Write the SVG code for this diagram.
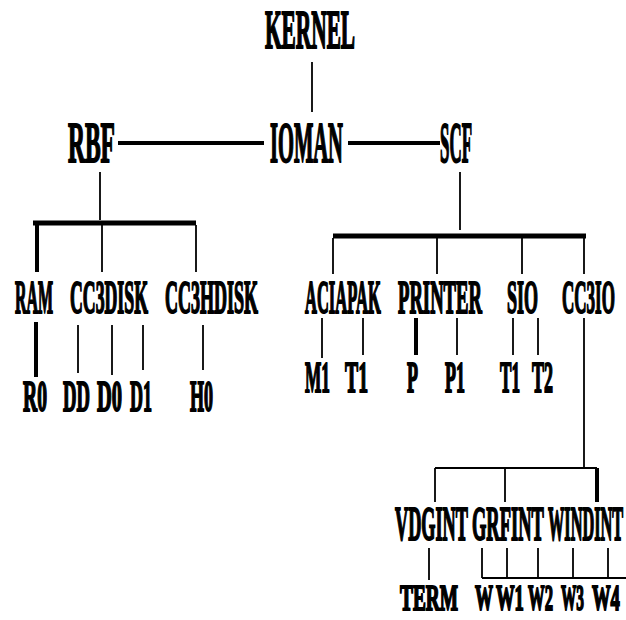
<svg xmlns="http://www.w3.org/2000/svg" width="626" height="620" viewBox="0 0 626 620">
<style>
.t{font-family:"Liberation Serif","DejaVu Serif",serif;font-weight:bold;fill:#000;stroke:#000;stroke-width:2}
.l0{font-size:55px}.l1{font-size:57px}.l2{font-size:47px}.lf{font-size:45px}.l3{font-size:48px}.lb{font-size:36px}
.c{stroke:#000;fill:none;stroke-linecap:butt}
.thick{stroke-width:4}.bar{stroke-width:5}.thin{stroke-width:1.8}
</style>
<rect width="626" height="620" fill="#fff"/>
<g id="connectors">
<line class="c thin" x1="312" y1="62" x2="312" y2="112"/>
<line class="c thick" x1="118" y1="143" x2="264" y2="143"/>
<line class="c thick" x1="348" y1="143" x2="440" y2="143"/>
<line class="c thin" x1="100" y1="172" x2="100" y2="220"/>
<line class="c bar" x1="33" y1="223" x2="196" y2="223"/>
<line class="c thick" x1="37" y1="225" x2="37" y2="272"/>
<line class="c thin" x1="102" y1="225" x2="102" y2="272"/>
<line class="c thin" x1="196" y1="225" x2="196" y2="272"/>
<line class="c thin" x1="460" y1="172" x2="460" y2="230"/>
<line class="c bar" x1="333" y1="236" x2="586" y2="236"/>
<line class="c thin" x1="333" y1="238" x2="333" y2="274"/>
<line class="c thin" x1="437" y1="238" x2="437" y2="274"/>
<line class="c thin" x1="522" y1="238" x2="522" y2="274"/>
<line class="c thin" x1="584" y1="238" x2="584" y2="274"/>
<line class="c thick" x1="36" y1="322" x2="36" y2="377"/>
<line class="c thin" x1="78" y1="325" x2="78" y2="373"/>
<line class="c thin" x1="112" y1="325" x2="112" y2="375"/>
<line class="c thin" x1="143" y1="325" x2="143" y2="370"/>
<line class="c thin" x1="203" y1="325" x2="203" y2="370"/>
<line class="c thin" x1="322" y1="318" x2="322" y2="358"/>
<line class="c thin" x1="363" y1="318" x2="363" y2="355"/>
<line class="c thick" x1="416" y1="318" x2="416" y2="355"/>
<line class="c thin" x1="457" y1="318" x2="457" y2="355"/>
<line class="c thin" x1="513" y1="318" x2="513" y2="355"/>
<line class="c thin" x1="538" y1="318" x2="538" y2="355"/>
<line class="c thin" x1="584" y1="318" x2="584" y2="468"/>
<line class="c thin" x1="435" y1="468" x2="597" y2="468"/>
<line class="c thin" x1="435" y1="468" x2="435" y2="502"/>
<line class="c thin" x1="505" y1="468" x2="505" y2="502"/>
<line class="c thick" x1="597" y1="468" x2="597" y2="502"/>
<line class="c thin" x1="429" y1="548" x2="429" y2="580"/>
<line class="c thin" x1="482" y1="578" x2="626" y2="578"/>
<line class="c thin" x1="482" y1="548" x2="482" y2="578"/>
<line class="c thin" x1="507" y1="548" x2="507" y2="578"/>
<line class="c thin" x1="538" y1="548" x2="538" y2="578"/>
<line class="c thin" x1="573" y1="548" x2="573" y2="578"/>
<line class="c thin" x1="608" y1="548" x2="608" y2="578"/>
</g>
<g id="kernel"><text class="t l0" transform="translate(265,48) scale(0.388,1)">KERNEL</text></g>
<g id="rbf"><text class="t l1" transform="translate(68,162) scale(0.412,1)">RBF</text></g>
<g id="ioman"><text class="t l1" transform="translate(270,162) scale(0.36,1)">IOMAN</text></g>
<g id="scf"><text class="t l1" transform="translate(440,162) scale(0.297,1)">SCF</text></g>
<g id="ram"><text class="t l2" transform="translate(15,313) scale(0.339,1)">RAM</text></g>
<g id="cc3disk"><text class="t l2" transform="translate(70,313) scale(0.378,1)">CC3DISK</text></g>
<g id="cc3hdisk"><text class="t l2" transform="translate(165,313) scale(0.383,1)">CC3HDISK</text></g>
<g id="aciapak"><text class="t l2" transform="translate(305,313) scale(0.351,1)">ACIAPAK</text></g>
<g id="printer"><text class="t l2" transform="translate(398,313) scale(0.397,1)">PRINTER</text></g>
<g id="sio"><text class="t l2" transform="translate(507,313) scale(0.383,1)">SIO</text></g>
<g id="cc3io"><text class="t l2" transform="translate(562,313) scale(0.362,1)">CC3IO</text></g>
<g id="r0"><text class="t lf" transform="translate(23,411) scale(0.436,1)">R0</text></g>
<g id="dd"><text class="t lf" transform="translate(63,411) scale(0.415,1)">DD</text></g>
<g id="d0"><text class="t lf" transform="translate(97,411) scale(0.455,1)">D0</text></g>
<g id="d1"><text class="t lf" transform="translate(130,411) scale(0.4,1)">D1</text></g>
<g id="h0"><text class="t lf" transform="translate(190,411) scale(0.4,1)">H0</text></g>
<g id="m1"><text class="t lf" transform="translate(305,392) scale(0.385,1)">M1</text></g>
<g id="t1a"><text class="t lf" transform="translate(345,392) scale(0.438,1)">T1</text></g>
<g id="p"><text class="t lf" transform="translate(407,392) scale(0.4,1)">P</text></g>
<g id="p1"><text class="t lf" transform="translate(445,392) scale(0.4,1)">P1</text></g>
<g id="t1b"><text class="t lf" transform="translate(500,392) scale(0.381,1)">T1</text></g>
<g id="t2"><text class="t lf" transform="translate(532,392) scale(0.4,1)">T2</text></g>
<g id="vdgint"><text class="t l3" transform="translate(395,540) scale(0.38,1)">VDGINT</text></g>
<g id="grfint"><text class="t l3" transform="translate(472,540) scale(0.385,1)">GRFINT</text></g>
<g id="windint"><text class="t l3" transform="translate(548,540) scale(0.34,1)">WINDINT</text></g>
<g id="term"><text class="t lb" transform="translate(400,610) scale(0.537,1)">TERM</text></g>
<g id="w"><text class="t lb" transform="translate(475,610) scale(0.5,1)">W</text></g>
<g id="w1"><text class="t lb" transform="translate(496,610) scale(0.517,1)">W1</text></g>
<g id="w2"><text class="t lb" transform="translate(528,610) scale(0.463,1)">W2</text></g>
<g id="w3"><text class="t lb" transform="translate(561,610) scale(0.426,1)">W3</text></g>
<g id="w4"><text class="t lb" transform="translate(592,610) scale(0.517,1)">W4</text></g>
</svg>
